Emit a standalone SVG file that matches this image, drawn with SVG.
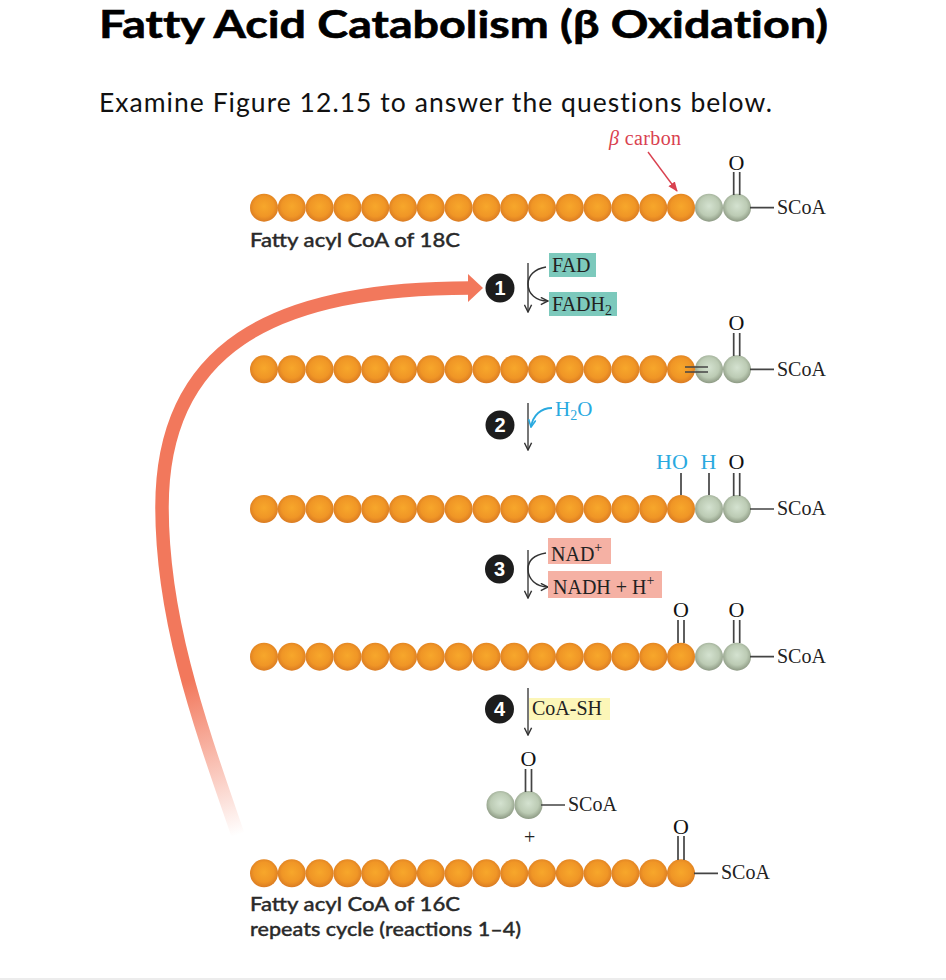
<svg xmlns="http://www.w3.org/2000/svg" width="946" height="980" viewBox="0 0 946 980">
<style>
text{font-family:"Liberation Serif","Times New Roman",serif;font-size:20px;fill:#222}
.title{font-family:"Lato","Noto Sans",sans-serif;font-weight:700;font-size:38px;fill:#000;stroke:#000;stroke-width:.6;font-variant-ligatures:none}
.sub{font-family:"Lato","Noto Sans",sans-serif;font-size:26.5px;fill:#111;font-variant-ligatures:none}
.lab{font-family:"Lato","Noto Sans",sans-serif;font-weight:500;font-size:19.5px;fill:#2a2a2a;stroke:#2a2a2a;stroke-width:.35}
.num{font-family:"Liberation Sans",Arial,sans-serif;font-weight:700;font-size:20px;fill:#fff;text-anchor:middle}
.red{fill:#d9414f}.cy{fill:#29a9df}
.oo{font-size:22px;fill:#111}
.hy{font-size:22px;fill:#29a9df}
.ln{stroke:#444;stroke-width:1.7;fill:none}
.ar{stroke:#555;stroke-width:1.6;fill:none;marker-end:url(#ah)}
.cyl{stroke:#29a9df;stroke-width:1.8;fill:none;marker-end:url(#ahc)}
.rdl{stroke:#d9414f;stroke-width:1.4;fill:none;marker-end:url(#ahr)}
.blk{stroke:#333;stroke-width:1.5;fill:none;marker-end:url(#ah)}
.badge{fill:#1d1d1d}
.teal{fill:#7cc9bc}.sal{fill:#f5b1a4}.yel{fill:#fcf6b8}
.sm{font-size:14px}
</style>
<defs>
<radialGradient id="o" cx="50%" cy="46%" r="55%"><stop offset="0" stop-color="#f7a72b"/><stop offset=".65" stop-color="#f09626"/><stop offset="1" stop-color="#d97a22"/></radialGradient>
<radialGradient id="g" cx="50%" cy="44%" r="55%"><stop offset="0" stop-color="#d4e2d0"/><stop offset=".65" stop-color="#bccbb4"/><stop offset="1" stop-color="#8f9c86"/></radialGradient>
<linearGradient id="fade" gradientUnits="userSpaceOnUse" x1="238" y1="835" x2="190" y2="680"><stop offset="0" stop-color="#f2785c" stop-opacity="0"/><stop offset="1" stop-color="#f2785c"/></linearGradient>
<marker id="ah" viewBox="0 0 10 10" refX="9" refY="5" markerWidth="9" markerHeight="9" markerUnits="userSpaceOnUse" orient="auto"><path d="M1,1 L9,5 L1,9" fill="none" stroke="#333" stroke-width="1.6"/></marker>
<marker id="ahc" viewBox="0 0 10 10" refX="9" refY="5" markerWidth="9" markerHeight="9" markerUnits="userSpaceOnUse" orient="auto"><path d="M1,1 L9,5 L1,9" fill="none" stroke="#29a9df" stroke-width="1.8"/></marker>
<marker id="ahr" viewBox="0 0 10 10" refX="9" refY="5" markerWidth="10" markerHeight="10" markerUnits="userSpaceOnUse" orient="auto"><path d="M0,1 L10,5 L0,9 Z" fill="#d9414f"/></marker>
<circle id="ob" r="14" fill="url(#o)"/>
<circle id="gb" r="14" fill="url(#g)"/>
<g id="chain">
<use href="#ob" x="264"/><use href="#ob" x="291.8"/><use href="#ob" x="319.6"/><use href="#ob" x="347.4"/><use href="#ob" x="375.2"/><use href="#ob" x="403"/><use href="#ob" x="430.8"/><use href="#ob" x="458.6"/><use href="#ob" x="486.4"/><use href="#ob" x="514.2"/><use href="#ob" x="542"/><use href="#ob" x="569.8"/><use href="#ob" x="597.6"/><use href="#ob" x="625.4"/><use href="#ob" x="653.2"/><use href="#ob" x="681"/>
</g>
<g id="pair"><use href="#gb" x="709"/><use href="#gb" x="737"/></g>
</defs>
<rect width="946" height="980" fill="#fff"/>
<rect y="978" width="946" height="2" fill="#ececec"/>
<text class="title" x="99" y="37.5" textLength="729" lengthAdjust="spacingAndGlyphs">Fatty Acid Catabolism (β Oxidation)</text>
<text class="sub" x="99" y="112" textLength="673">Examine Figure 12.15 to answer the questions below.</text>

<g id="connectors">
<path d="M238,835 C200,725 162,620 162,507 C162,350 270,288 470,288" fill="none" stroke="url(#fade)" stroke-width="13.5"/>
<path d="M468,274 L483,288 L468,302 Z" fill="#f2785c"/>
<path class="rdl" d="M648,152 L677,191"/>
<path class="ar" d="M528,263 V312"/>
<path class="blk" d="M546,267 C534,269 528,276 528,284 C528,294 536,301 548,301"/>
<path class="ar" d="M528,403 V450"/>
<path class="cyl" d="M552,408 C541,408 533,415 531,427"/>
<path class="ar" d="M528,550 V598"/>
<path class="blk" d="M546,553 C534,555 528,561 528,569 C528,579 536,587 548,587"/>
<path class="ar" d="M528,688 V735"/>
</g>

<g id="node-row1"><use href="#chain" y="207.7"/><use href="#pair" y="207.7"/>
<path class="ln" d="M733.7,172V195M739.7,172V195M750,207.7H774"/>
<text class="oo" x="728.5" y="170">O</text><text x="777" y="214">SCoA</text>
<text class="lab" x="250" y="247" textLength="210" lengthAdjust="spacingAndGlyphs">Fatty acyl CoA of 18C</text></g>
<g id="node-beta"><text class="red" x="609" y="145" textLength="72"><tspan font-style="italic">β</tspan> carbon</text></g>

<g id="node-row2"><use href="#chain" y="369.3"/><use href="#pair" y="369.3"/>
<path class="ln" d="M733.7,333V356M739.7,333V356M750,369.3H774M685,367H708M685,372H708"/>
<text class="oo" x="728.5" y="330">O</text><text x="777" y="376">SCoA</text></g>

<g id="node-row3"><use href="#chain" y="509"/><use href="#pair" y="509"/>
<path class="ln" d="M733.7,473V496M739.7,473V496M681,473V495M709,473V495M750,509H774"/>
<text class="hy" x="656" y="469">HO</text><text class="hy" x="700.5" y="469">H</text>
<text class="oo" x="728.5" y="469">O</text><text x="777" y="515">SCoA</text></g>

<g id="node-row4"><use href="#chain" y="656.7"/><use href="#pair" y="656.7"/>
<path class="ln" d="M678,620V643M684,620V643M733.7,620V643M739.7,620V643M750,656.7H774"/>
<text class="oo" x="673" y="617">O</text><text class="oo" x="728.5" y="617">O</text><text x="777" y="663">SCoA</text></g>

<g id="node-acetyl"><use href="#gb" x="500.5" y="805"/><use href="#gb" x="528.5" y="805"/>
<path class="ln" d="M525.5,769V792M531.5,769V792M541,805H565"/>
<text class="oo" x="520.5" y="766">O</text><text x="568" y="811">SCoA</text></g>
<g id="node-plus"><text x="524" y="844">+</text></g>

<g id="node-row6"><use href="#chain" y="873.3"/>
<path class="ln" d="M678,836V860M684,836V860M694,873.3H718"/>
<text class="oo" x="673" y="834">O</text><text x="721" y="879">SCoA</text>
<text class="lab" x="250" y="911" textLength="210" lengthAdjust="spacingAndGlyphs">Fatty acyl CoA of 16C</text>
<text class="lab" x="250" y="936" textLength="271" lengthAdjust="spacingAndGlyphs">repeats cycle (reactions 1–4)</text></g>

<g id="node-step1"><circle class="badge" cx="500" cy="288" r="14.5"/><text class="num" x="500" y="295">1</text></g>
<g id="node-fad"><rect class="teal" x="549" y="253" width="47" height="24"/><text x="552" y="272">FAD</text></g>
<g id="node-fadh2"><rect class="teal" x="549" y="292" width="68" height="24"/><text x="552" y="311">FADH<tspan class="sm" dy="4">2</tspan></text></g>

<g id="node-step2"><circle class="badge" cx="500" cy="425" r="14.5"/><text class="num" x="500" y="432">2</text></g>
<g id="node-h2o"><text class="cy" x="555" y="416" style="font-size:21px">H<tspan class="sm cy" dy="4">2</tspan><tspan dy="-4">O</tspan></text></g>

<g id="node-step3"><circle class="badge" cx="499.5" cy="569" r="14.5"/><text class="num" x="499.5" y="576">3</text></g>
<g id="node-nad"><rect class="sal" x="548" y="538" width="63" height="26"/><text x="551" y="561">NAD<tspan class="sm" dy="-9">+</tspan></text></g>
<g id="node-nadh"><rect class="sal" x="548" y="571" width="114" height="27"/><text x="553" y="594">NADH + H<tspan class="sm" dy="-9">+</tspan></text></g>

<g id="node-step4"><circle class="badge" cx="499.5" cy="709" r="14.5"/><text class="num" x="499.5" y="716">4</text></g>
<g id="node-coash"><rect class="yel" x="529" y="698" width="81" height="22"/><text x="532" y="715">CoA-SH</text></g>
</svg>
